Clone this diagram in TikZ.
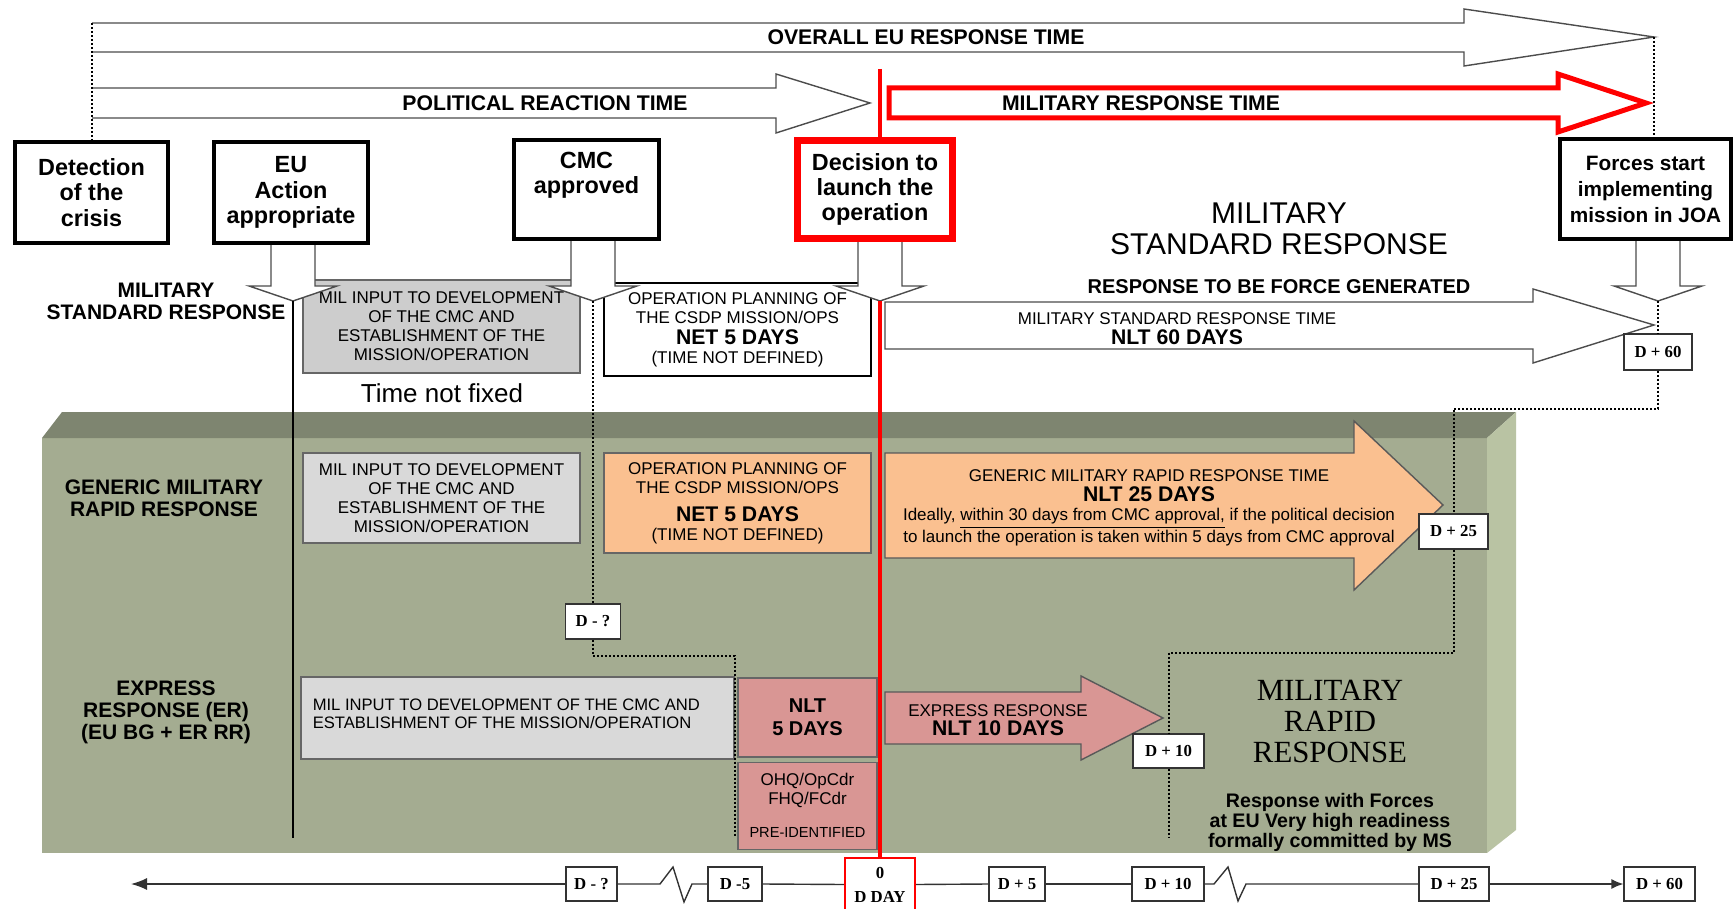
\documentclass[tikz,border=0pt]{standalone}
\usepackage{fontspec}
\setmainfont{Liberation Sans}
\newfontfamily\tnr{Liberation Serif}
\usetikzlibrary{arrows.meta,positioning}
\definecolor{panelfront}{HTML}{A4AC91}
\definecolor{paneltop}{HTML}{7E8570}
\definecolor{panelside}{HTML}{B9C3A3}
\definecolor{greyone}{HTML}{CDCDCD}
\definecolor{greytwo}{HTML}{D9D9D9}
\definecolor{orangefill}{HTML}{FAC090}
\definecolor{pinkfill}{HTML}{D99694}
\newcommand{\daysfont}{\fontsize{10.6}{11}\selectfont\bfseries}
\tikzset{
    milestone/.style={
           draw=black, line width=2.2pt,
           fill=white,
           align=center,
           inner sep=0pt,
           font=\fontsize{11.7}{12.7}\selectfont\bfseries
           },
    rowbox/.style={
           draw=black!60, line width=0.6pt,
           align=center,
           inner sep=0pt,
           font=\fontsize{8.5}{9.5}\selectfont
           },
    dbox/.style={
           draw=black!80, line width=0.6pt,
           fill=white,
           inner xsep=2pt,
           minimum height=17pt,
           align=center,
           font=\tnr\fontsize{8.4}{12}\selectfont\bfseries
           },
    outline/.style={draw=black!70, line width=0.7pt, fill=white},
    arrowline/.style={draw=black!65, line width=0.7pt},
    dots/.style={densely dotted, line width=1pt},
    arrtxt/.style={font=\fontsize{10.6}{11}\selectfont\bfseries},
    lbl/.style={align=center, font=\fontsize{10.5}{11}\selectfont\bfseries},
    intxt/.style={align=center, font=\fontsize{8.5}{9.8}\selectfont},
}
\begin{document}
\begin{tikzpicture}[x=0.5pt, y=-0.5pt]
  \useasboundingbox (0,0) rectangle (1735,909);

  % rapid response panel
  \fill[panelfront] (42,438) rectangle (1487,853);
  \fill[paneltop] (42,438) -- (62,412) -- (1516,412) -- (1487,438) -- cycle;
  \fill[panelside] (1487,438) -- (1516,412) -- (1516,830) -- (1487,853) -- cycle;

  % time arrows on top
  \coordinate (ol) at (92,23);
  \coordinate (or) at (1654,37);
  \coordinate (rt) at (880,69);
  \draw[outline] (ol) -- (1464,23) -- (1464,9) -- (or) -- (1464,66) -- (1464,52) -- (92,52);
  \node[arrtxt] (ov) at (926,37) {OVERALL EU RESPONSE TIME};
  \draw[outline] (92,88) -- (776,88) -- (776,74) -- (870,103) -- (776,133) -- (776,118) -- (92,118);
  \node[arrtxt] (pol) at (545,103) {POLITICAL REACTION TIME};
  \draw[red, line width=2.5pt, fill=white] (889,88) -- (1558,88) -- (1558,74) -- (1646,103)
      -- (1558,132) -- (1558,118) -- (889,118) -- cycle;
  \node[arrtxt] (mil) at (1141,103) {MILITARY RESPONSE TIME};

  % row labels
  \node[lbl] (lsr) at (166,301) {MILITARY\\STANDARD RESPONSE};
  \node[lbl] (lgr) at (164,498) {GENERIC MILITARY\\RAPID RESPONSE};
  \node[lbl] (ler) at (166,712.5) {EXPRESS\\RESPONSE (ER)\\(EU BG + ER RR)};
  \node[font=\fontsize{13}{15}\selectfont] (tnf) at (442,393) {Time not fixed};
  \node[align=center, font=\fontsize{15}{15.5}\selectfont] (msr) at (1279,228.5) {MILITARY\\STANDARD RESPONSE};
  \node[font=\fontsize{10}{11}\selectfont\bfseries] (rfg) at (1279,287) {RESPONSE TO BE FORCE GENERATED};

  % standard response row
  \node[rowbox, fill=greyone, minimum width=138.5pt, minimum height=46.5pt] (g1) at (441.5,326.5)
      {MIL INPUT TO DEVELOPMENT\\OF THE CMC AND\\ESTABLISHMENT OF THE\\MISSION/OPERATION};
  \node[rowbox, draw=black, fill=white, minimum width=133.5pt, minimum height=46.5pt] (w1) at (737.5,329.5)
      {OPERATION PLANNING OF\\THE CSDP MISSION/OPS\\[1pt]{\daysfont NET 5 DAYS}\\(TIME NOT DEFINED)};
  \draw[outline] (885,302) -- (1533,302) -- (1533,289) -- (1654,325) -- (1533,363) -- (1533,349) -- (885,349) -- cycle;
  \node[intxt] (msrt) at (1177,328.5) {MILITARY STANDARD RESPONSE TIME\\{\daysfont NLT 60 DAYS}};

  % generic rapid response row
  \node[rowbox, fill=greytwo, minimum width=138.5pt, minimum height=45pt] (g2) at (441.5,498)
      {MIL INPUT TO DEVELOPMENT\\OF THE CMC AND\\ESTABLISHMENT OF THE\\MISSION/OPERATION};
  \node[rowbox, fill=orangefill, minimum width=133.5pt, minimum height=50pt] (o2) at (737.5,503)
      {OPERATION PLANNING OF\\THE CSDP MISSION/OPS\\[4.5pt]{\daysfont NET 5 DAYS}\\(TIME NOT DEFINED)};
  \draw[arrowline, fill=orangefill] (885,453) -- (1354,453) -- (1354,421) -- (1443,505) -- (1354,590) -- (1354,558) -- (885,558) -- cycle;
  \node[intxt] (grt) at (1149,508) {GENERIC MILITARY RAPID RESPONSE TIME\\{\daysfont NLT 25 DAYS}\\Ideally, \underline{within 30 days from CMC approval,} if the political decision\\to launch the operation is taken within 5 days from CMC approval};

  % express response row
  \node[rowbox, fill=greytwo, minimum width=216.5pt, minimum height=41pt] (g3) at (517.5,718) {};
  \node[anchor=north west, align=left, inner sep=0pt, font=\fontsize{8.3}{9.2}\selectfont] (g3t)
      at ([xshift=6pt,yshift=-11pt]g3.north west) {MIL INPUT TO DEVELOPMENT OF THE CMC AND\\ESTABLISHMENT OF THE MISSION/OPERATION};
  \node[rowbox, fill=pinkfill, minimum width=69.5pt, minimum height=39.5pt,
        font=\fontsize{10}{11.5}\selectfont\bfseries] (p3a) at (807.5,717.5) {NLT\\5 DAYS};
  \node[rowbox, fill=pinkfill, minimum width=69.5pt, minimum height=43.5pt, below=2pt of p3a] (p3b)
      {OHQ/OpCdr\\FHQ/FCdr\\[7pt]{\fontsize{7.3}{8}\selectfont PRE-IDENTIFIED}};
  \draw[arrowline, fill=pinkfill] (885,692) -- (1081,692) -- (1081,676) -- (1163,718) -- (1081,760) -- (1081,744) -- (885,744) -- cycle;
  \node[intxt] (ert) at (998,720) {EXPRESS RESPONSE\\{\daysfont NLT 10 DAYS}};
  \node[align=center, font=\tnr\fontsize{15.4}{15.6}\selectfont] (mrr) at (1330,721.5) {MILITARY\\RAPID\\RESPONSE};
  \node[align=center, font=\fontsize{9.8}{10}\selectfont\bfseries] (rwf) at (1330,822)
      {Response with Forces\\at EU Very high readiness\\formally committed by MS};

  % block arrows under the milestones
  \foreach \cx/\nm in {293/ta,593/tc,880/td,1658/tf}{
    \draw[outline] (\cx-22,238) -- (\cx-22,286) -- (\cx-44,286) -- (\cx,301)
        -- (\cx+44,286) -- (\cx+22,286) -- (\cx+22,238);
    \coordinate (\nm) at (\cx,301);
  }

  % milestones
  \node[milestone, minimum width=76.3pt, minimum height=50.3pt] (det) at (91.5,192.5) {Detection\\of the\\crisis};
  \node[milestone, minimum width=76.8pt, minimum height=50.3pt] (act) at (291,192.5) {EU\\Action\\appropriate};
  \node[milestone, minimum width=72.3pt, minimum height=49.3pt] (cmc) at (586.5,189.5) {CMC\\approved\\\strut};
  \node[milestone, draw=red, line width=3.5pt, minimum width=77.5pt, minimum height=49pt] (dec) at (875,189.5)
      {Decision to\\launch the\\operation};
  \node[milestone, minimum width=85.3pt, minimum height=49.8pt, font=\fontsize{10.4}{13}\selectfont\bfseries] (frc)
      at (1645.5,189) {Forces start\\implementing\\mission in JOA};

  % day marks
  \node[dbox, minimum width=34pt, minimum height=18pt] (d60) at (1658,352) {D + 60};
  \node[dbox, minimum width=34.5pt, minimum height=17.5pt] (d25) at (1453.5,531.5) {D + 25};
  \node[dbox, minimum width=35.5pt] (d10) at (1168.5,751) {D + 10};
  \node[dbox, minimum width=27.5pt, minimum height=17.5pt] (dq1) at (593,621.5) {D - ?};

  \node[dbox, minimum width=25.5pt] (dq) at (591.5,884) {D - ?};
  \node[dbox, minimum width=27pt] (d5) at (735,884) {D -5};
  \node[dbox, draw=red, line width=1.2pt, minimum width=35pt, minimum height=26.5pt] (dday) at (880,884.5) {0\\D DAY};
  \node[dbox, minimum width=28pt] (dp5) at (1017,884) {D + 5};
  \node[dbox, minimum width=36pt] (dp10) at (1168,884) {D + 10};
  \node[dbox, minimum width=35pt] (dp25) at (1454,884) {D + 25};
  \node[dbox, minimum width=35.5pt] (dp60) at (1659.5,884) {D + 60};

  % connectors
  \coordinate (ea) at (293,838);
  \coordinate (e5) at (735,837);
  \coordinate (e10) at (1168.5,837);
  \coordinate (tl) at (131,884);
  \draw[dots] (ol) -- (ol |- det.north);
  \draw[dots] (or) -- (or |- frc.north);
  \draw[dots] (tf) -- (d60.north);
  \draw[dots] (d60.south) -- ++(0,38) -| (d25.north);
  \draw[dots] (d25.south) -- ++(0,103) -| (d10.north);
  \draw[dots] (d10.south) -- (e10);
  \draw[dots] (tc) -- (dq1.north);
  \draw[dots] (dq1.south) -- ++(0,16) -| (e5);
  \draw[red, line width=2pt] (rt) -- (rt |- dec.north);
  \draw[red, line width=2pt] (td) -- (dday.north);
  \draw[line width=1.1pt] (ta) -- (ea);

  \draw[black!80, line width=0.7pt, -{Latex[length=8pt,width=6pt]}] (dq.west) -- (tl);
  \draw[black!80, line width=0.7pt] (dq.east) -- (660,884) -- (673,867) -- (684,902) -- (692,884) -- (d5.west);
  \draw[black!80, line width=0.7pt] (d5.east) -- (dday.west);
  \draw[black!80, line width=0.7pt] (dday.east) -- (dp5.west);
  \draw[black!80, line width=0.7pt] (dp5.east) -- (dp10.west);
  \draw[black!80, line width=0.7pt] (dp10.east) -- (1214,884) -- (1228,867) -- (1238,901) -- (1246,884) -- (dp25.west);
  \draw[black!80, line width=0.7pt, -{Latex[length=6pt,width=5pt]}] (dp25.east) -- (dp60.west);
\end{tikzpicture}
\end{document}
